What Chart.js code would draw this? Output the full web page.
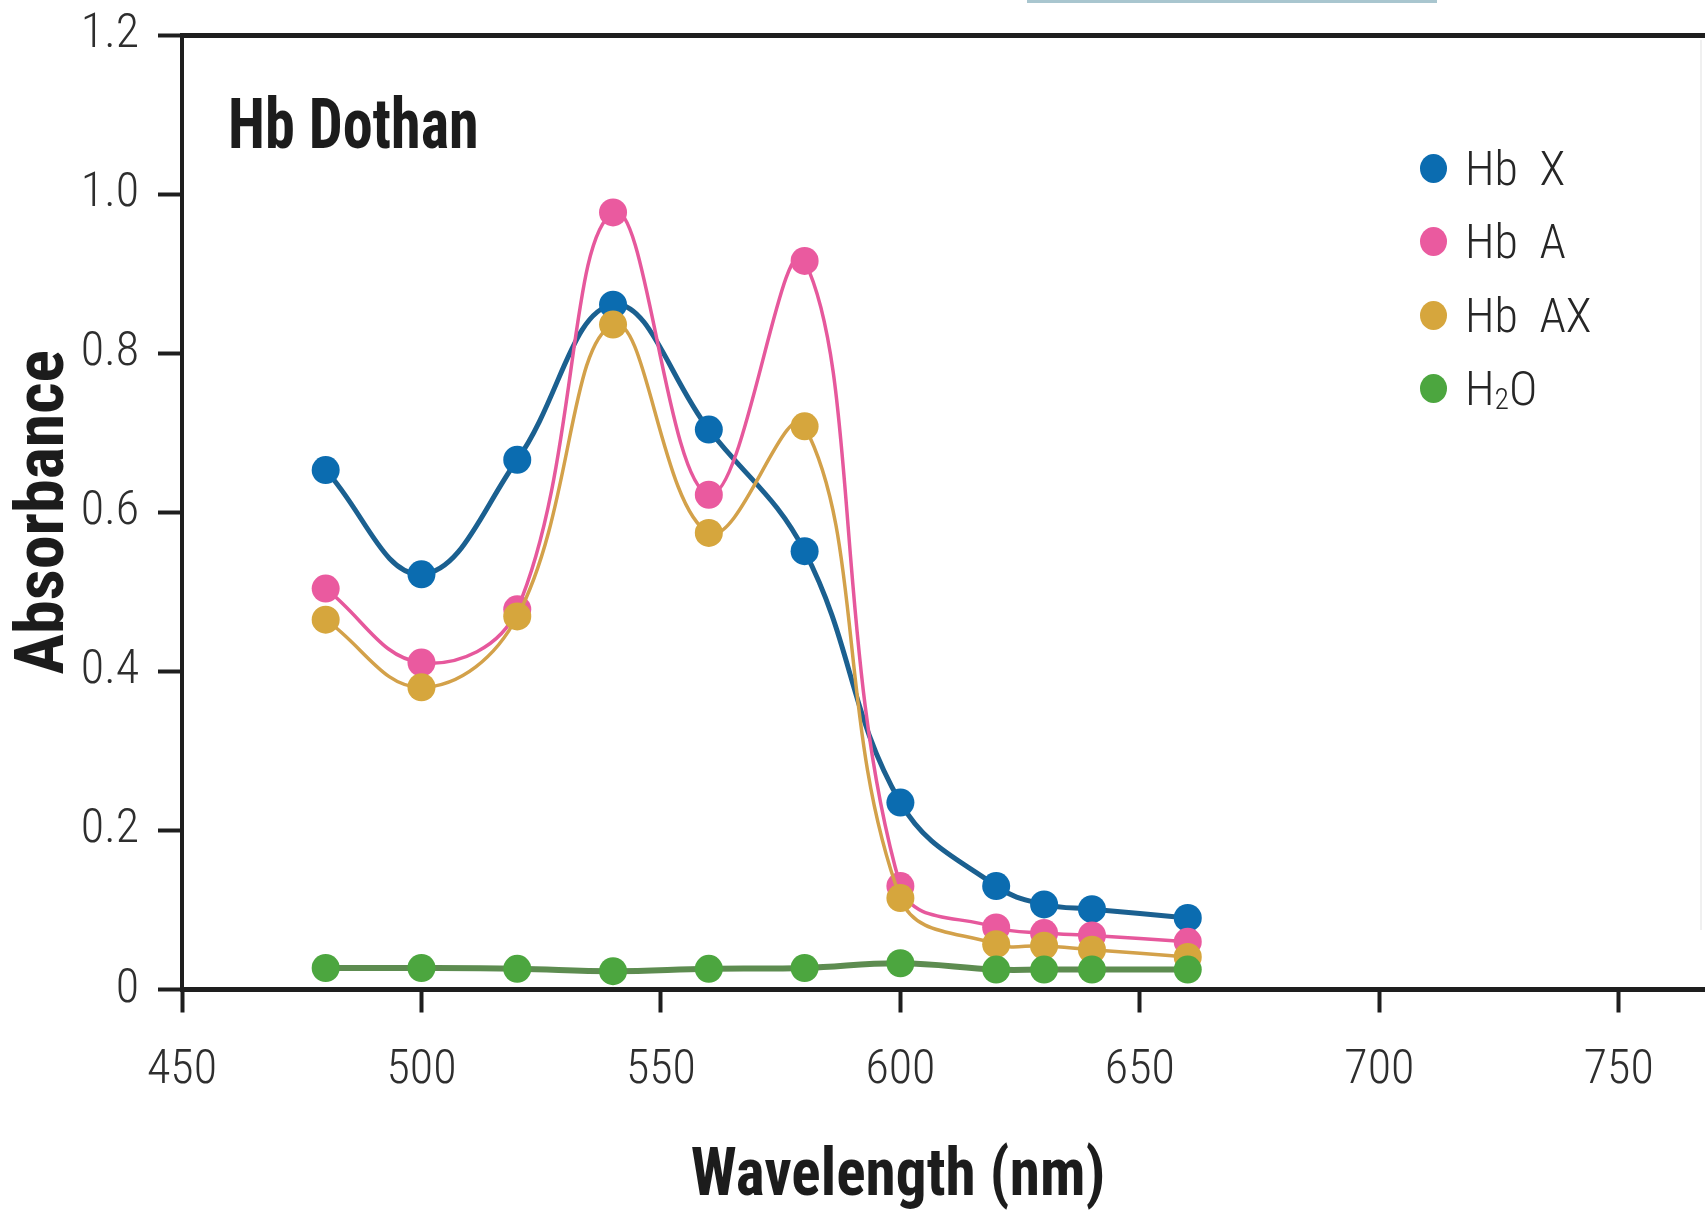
<!DOCTYPE html>
<html>
<head>
<meta charset="utf-8">
<script src="https://cdn.jsdelivr.net/npm/chart.js@4.4.0/dist/chart.umd.min.js"></script>
<style>
html, body { margin: 0; padding: 0; background: #fff; }
#wrap { position: relative; width: 1705px; height: 1218px; overflow: hidden; }
#chart { position: absolute; left: 0; top: 0; }
.topbar { position: absolute; left: 1027px; top: 0; width: 410px; height: 3px; background: #a9c6cf; }
.edge { position: absolute; left: 1700px; top: 40px; width: 2px; height: 890px; background: #f0f0f0; }
.plotTitle {
    position: absolute; left: 228px; top: 89px; white-space: pre;
    font: bold 70px 'Roboto Condensed', 'DejaVu Sans Condensed', sans-serif;
    line-height: 70px; color: #1c1c1c; transform: scaleX(0.86); transform-origin: left top;
}
.xTitle {
    position: absolute; left: 898px; top: 1140px; white-space: pre;
    font: bold 66px 'Roboto Condensed', 'DejaVu Sans Condensed', sans-serif;
    line-height: 66px; color: #1c1c1c; transform: translateX(-50%) scaleX(0.93);
}
.lg {
    position: absolute; left: 1420px; height: 56px; line-height: 56px; white-space: pre;
    font: 300 48px 'Roboto Condensed', 'DejaVu Sans Condensed', sans-serif;
    color: #262626; display: flex; align-items: center;
}
.dot { display: inline-block; width: 27px; height: 29px; border-radius: 50%; margin-right: 18px; }
.lg .s2 { font-size: 0.62em; position: relative; top: 0.35em; }
</style>
</head>
<body>
<div id="wrap">
    <canvas id="chart" width="1705" height="1218"></canvas>
    <div class="topbar"></div>
    <div class="edge"></div>
    <div class="plotTitle">Hb Dothan</div>
    <div class="xTitle">Wavelength (nm)</div>
    <div class="lg" style="top:140px"><span class="dot" style="background:#0b6cb0"></span>Hb  X</div>
    <div class="lg" style="top:213px"><span class="dot" style="background:#ea5a9f"></span>Hb  A</div>
    <div class="lg" style="top:287px"><span class="dot" style="background:#d6a63d"></span>Hb  AX</div>
    <div class="lg" style="top:360px"><span class="dot" style="background:#4ca63f"></span>H<span class="s2">2</span>O</div>
</div>
<script>
// wavelengths measured (nm)
var wavelengths = [480, 500, 520, 540, 560, 580, 600, 620, 630, 640, 660];

// absorbance readings
var hbX  = [0.653, 0.522, 0.666, 0.861, 0.704, 0.551, 0.235, 0.130, 0.107, 0.101, 0.090];
var hbA  = [0.504, 0.411, 0.478, 0.977, 0.622, 0.916, 0.130, 0.078, 0.071, 0.068, 0.060];
var hbAX = [0.465, 0.380, 0.469, 0.836, 0.574, 0.708, 0.115, 0.057, 0.055, 0.050, 0.041];
var h2o  = [0.027, 0.027, 0.026, 0.023, 0.026, 0.027, 0.033, 0.025, 0.025, 0.025, 0.025];

var xTicks = [450, 500, 550, 600, 650, 700, 750];
var yTicks = [0, 0.2, 0.4, 0.6, 0.8, 1.0, 1.2];

var tickFont = { family: "'Roboto Condensed', 'DejaVu Sans Condensed', sans-serif", size: 48, weight: 300 };
var titleFont = { family: "'Roboto Condensed', 'DejaVu Sans Condensed', sans-serif", size: 68, weight: 'bold' };

function toPoints(values) {
    var pts = [];
    for (var i = 0; i < wavelengths.length; i++) {
        pts.push({ x: wavelengths[i], y: values[i] });
    }
    return pts;
}

function series(label, values, lineColor, dotColor, width, order) {
    return {
        label: label,
        data: toPoints(values),
        borderColor: lineColor,
        borderWidth: width,
        pointBackgroundColor: dotColor,
        pointBorderWidth: 0,
        pointRadius: 14,
        tension: 0.4,
        fill: false,
        order: order
    };
}

var ctx = document.getElementById("chart").getContext("2d");
var chartInstance = new Chart(ctx, {
    type: 'line',
    data: {
        datasets: [
            series('Hb X', hbX, '#1b6090', '#0b6cb0', 5, 3),
            series('Hb A', hbA, '#e6589c', '#ea5a9f', 3.5, 2),
            series('Hb AX', hbAX, '#d3a14a', '#d6a63d', 3.5, 1),
            series('H2O', h2o, '#5d8c50', '#4ca63f', 6, 0)
        ]
    },
    options: {
        responsive: false,
        animation: false,
        layout: { autoPadding: false, padding: { top: 35, right: 0, left: 0, bottom: 0 } },
        plugins: { legend: { display: false }, tooltip: { enabled: false } },
        scales: {
            x: {
                type: 'linear',
                position: 'bottom',
                min: 450,
                max: 768,
                afterBuildTicks: function (scale) {
                    scale.ticks = xTicks.map(function (v) { return { value: v }; });
                },
                afterFit: function (scale) { scale.height = 228.5; scale.paddingLeft = 0; scale.paddingRight = 0; },
                ticks: { autoSkip: false, maxRotation: 0, font: tickFont, color: '#2e2e2e', padding: 30,
                    callback: function (v) { return String(v); } },
                grid: { drawOnChartArea: false, drawTicks: true, tickLength: 23, tickWidth: 4, tickColor: '#1e1e1e' },
                border: { display: true, color: '#1e1e1e', width: 5 }
            },
            xTop: {
                type: 'linear',
                position: 'top',
                min: 450,
                max: 768,
                afterFit: function (scale) { scale.height = 0; scale.paddingLeft = 0; scale.paddingRight = 0; },
                ticks: { display: false },
                grid: { display: false },
                border: { display: true, color: '#1e1e1e', width: 5 }
            },
            y: {
                min: 0,
                max: 1.2,
                afterBuildTicks: function (scale) {
                    scale.ticks = yTicks.map(function (v) { return { value: v }; });
                },
                afterFit: function (scale) { scale.width = 182; scale.paddingTop = 0; scale.paddingBottom = 0; },
                ticks: { font: tickFont, color: '#2e2e2e', padding: 19,
                    callback: function (v) { return v === 0 ? '0' : v.toFixed(1); } },
                grid: { drawOnChartArea: false, drawTicks: true, tickLength: 24, tickWidth: 4, tickColor: '#1e1e1e' },
                border: { display: true, color: '#1e1e1e', width: 4 },
                title: { display: true, text: 'Absorbance', font: titleFont, color: '#1c1c1c', padding: { top: 5, bottom: 0 } }
            }
        }
    }
});
</script>
</body>
</html>
